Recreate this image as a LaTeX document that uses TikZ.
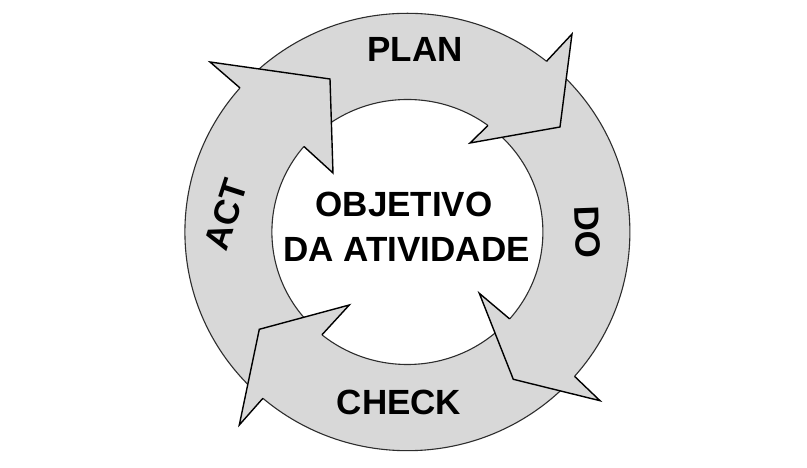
\documentclass[tikz,border=0pt]{standalone}
\usepackage{fontspec}
\setmainfont{Liberation Sans}
\usetikzlibrary{calc}
\definecolor{ringgray}{RGB}{216,216,216}
\definecolor{edgecol}{RGB}{45,45,45}
\tikzset{
  lbl/.style={font=\bfseries\fontsize{35}{42}\selectfont, text=black, inner sep=0pt},
  ringedge/.style={draw=edgecol, line width=1.1pt},
  headfill/.style={fill=ringgray},
  headline/.style={draw=black, line width=1.4pt, line join=miter},
}
\begin{document}
\begin{tikzpicture}[x=1pt,y=1pt]
\useasboundingbox (0,0) rectangle (807,468);
\fill[white] (0,0) rectangle (807,468);
\coordinate (C) at (407.4,236);
% ring
\fill[ringgray,even odd rule] (C) ellipse [x radius=222.5,y radius=218.7] (C) ellipse [x radius=135.5,y radius=132.5];
\draw[ringedge] (C) ellipse [x radius=222.5,y radius=218.7];
\draw[ringedge] (C) ellipse [x radius=135.5,y radius=132.5];
% ACT head
\coordinate (aoj) at ($(C)+(138.8:222.5 and 218.7)$);
\coordinate (aij) at ($(C)+(139.8:135.5 and 132.5)$);
\coordinate (aob) at (210,406);
\coordinate (atip) at (330,389);
\coordinate (aib) at (333,295);
\fill[headfill] (aoj) -- (aob) -- (atip) -- (aib) -- (aij) -- cycle;
\draw[headline] (aoj) -- (aob) -- (atip) -- (aib) -- (aij);
% PLAN head
\coordinate (poj) at ($(C)+(51.3:222.5 and 218.7)$);
\coordinate (pij) at ($(C)+(53.5:135.5 and 132.5)$);
\coordinate (pob) at (572,434);
\coordinate (ptip) at (560,341);
\coordinate (pib) at (470,325);
\fill[headfill] (poj) -- (pob) -- (ptip) -- (pib) -- (pij) -- cycle;
\draw[headline] (poj) -- (pob) -- (ptip) -- (pib) -- (pij);
% DO head
\coordinate (doj) at ($(C)+(-41.3:222.5 and 218.7)$);
\coordinate (dij) at ($(C)+(-41.0:135.5 and 132.5)$);
\coordinate (dob) at (600,67.3);
\coordinate (dtip) at (513.3,88.7);
\coordinate (dib) at (479.3,174.7);
\fill[headfill] (doj) -- (dob) -- (dtip) -- (dib) -- (dij) -- cycle;
\draw[headline] (doj) -- (dob) -- (dtip) -- (dib) -- (dij);
% CHECK head
\coordinate (coj) at ($(C)+(229.5:222.5 and 218.7)$);
\coordinate (cij) at ($(C)+(230.9:135.5 and 132.5)$);
\coordinate (cob) at (239.3,43);
\coordinate (ctip) at (259.3,138.7);
\coordinate (cib) at (349.3,163);
\fill[headfill] (coj) -- (cob) -- (ctip) -- (cib) -- (cij) -- cycle;
\draw[headline] (coj) -- (cob) -- (ctip) -- (cib) -- (cij);
% labels
\node[lbl] (plan) at (415,419) {PLAN};
\node[lbl] (check) at (399,65.5) {CHECK};
\node[lbl] (obj) at (404,263.5) {OBJETIVO};
\node[lbl] (ativ) at (406.5,218.5) {DA ATIVIDADE};
\node[lbl,rotate=72] (act) at (226,253) {ACT};
\node[lbl,rotate=-88] (do) at (587.5,235.5) {DO};
\end{tikzpicture}
\end{document}
